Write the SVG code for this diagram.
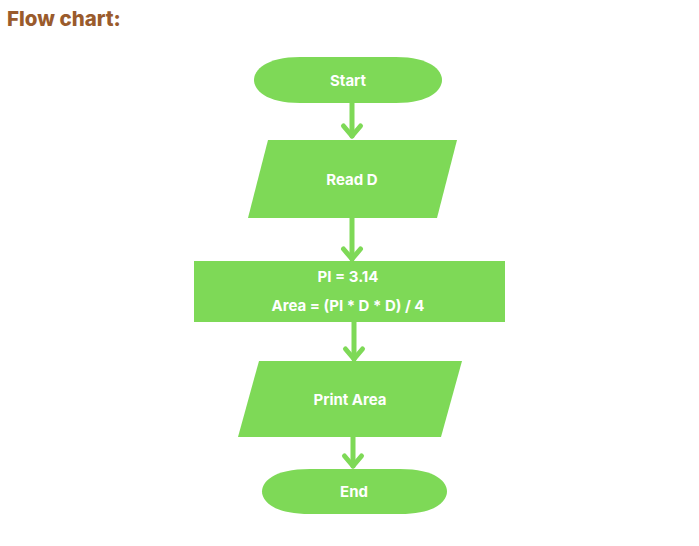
<svg xmlns="http://www.w3.org/2000/svg" width="699" height="546" viewBox="0 0 699 546">
<style>
.shape{fill:#7ed957;}
.lbl{font-family:Inter,"Open Sans","Liberation Sans",sans-serif;font-weight:700;font-size:15px;fill:#ffffff;text-anchor:middle;}
.title{font-family:Inter,"Open Sans","Liberation Sans",sans-serif;font-weight:800;font-size:20.5px;fill:#9a5b2c;}
.conn{stroke:#7ed957;stroke-width:5;fill:none;stroke-linecap:round;stroke-linejoin:round;}
</style>
<defs>
<marker id="chev" markerUnits="userSpaceOnUse" markerWidth="30" markerHeight="30" refX="18" refY="15" orient="auto" viewBox="0 0 30 30">
<path d="M8,6.5 L18,15 L8,23.5" fill="none" stroke="#7ed957" stroke-width="5" stroke-linecap="round" stroke-linejoin="round"/>
</marker>
</defs>
<rect width="699" height="546" fill="#ffffff"/>
<text class="title" x="7" y="26">Flow chart:</text>
<g id="connectors">
<path class="conn" d="M352,103 L352,136" marker-end="url(#chev)"/>
<path class="conn" d="M352,218 L352,259" marker-end="url(#chev)"/>
<path class="conn" d="M354,322 L354,359" marker-end="url(#chev)"/>
<path class="conn" d="M353,437 L353,466" marker-end="url(#chev)"/>
</g>
<g id="start">
<path class="shape" d="M300,57 L396,57 C430,57 442,70 442,80 C442,90 430,103 396,103 L300,103 C266,103 254,90 254,80 C254,70 266,57 300,57 Z"/>
<text class="lbl" x="348" y="86">Start</text>
</g>
<g id="readD">
<polygon class="shape" points="268,140 457,140 437,218 248,218"/>
<text class="lbl" x="352" y="185">Read D</text>
</g>
<g id="process">
<rect class="shape" x="194" y="261" width="311" height="61"/>
<text class="lbl" x="348" y="282">PI = 3.14</text>
<text class="lbl" x="348" y="311">Area = (PI * D * D) / 4</text>
</g>
<g id="printArea">
<polygon class="shape" points="259,361 462,361 441,437 238,437"/>
<text class="lbl" x="350" y="405">Print Area</text>
</g>
<g id="end">
<path class="shape" d="M310,469 L400,469 C436,469 447,482 447,491.5 C447,501 436,514 400,514 L310,514 C273,514 262,501 262,491.5 C262,482 273,469 310,469 Z"/>
<text class="lbl" x="354" y="497">End</text>
</g>
</svg>
